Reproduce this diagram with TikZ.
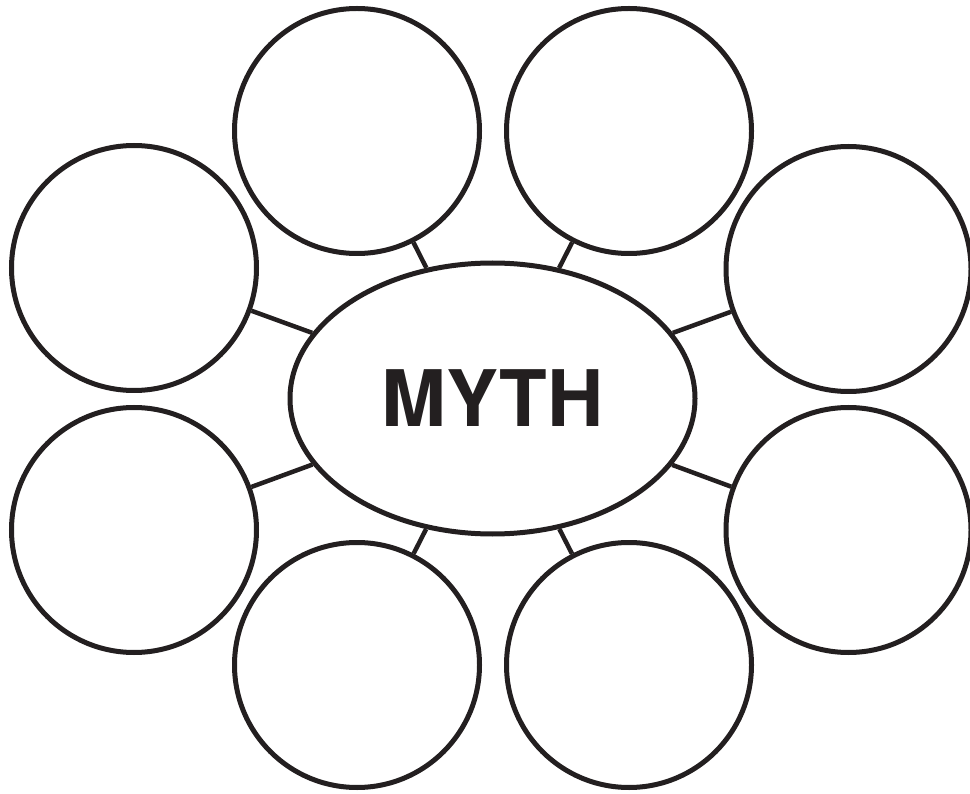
\documentclass[tikz,border=0pt]{standalone}
\usepackage{fontspec}
\setmainfont{TeX Gyre Heros}
\usetikzlibrary{shapes.geometric}
\definecolor{ink}{HTML}{231F20}
\tikzset{
  bubble/.style={circle, draw=ink, line width=5pt, minimum size=245pt, inner sep=0pt},
  hub/.style={ellipse, draw=ink, line width=5pt, minimum width=405pt, minimum height=271pt, inner sep=0pt,
    font=\fontsize{78}{80}\selectfont\bfseries, text=ink},
  link/.style={draw=ink, line width=4.5pt}
}
\begin{document}
\begin{tikzpicture}[x=1pt,y=-1pt]
\useasboundingbox (0,0) rectangle (970,794);
\node[hub] (m) at (492.5,398.5) {MYTH};
\node[bubble] (tl) at (357,131) {};
\node[bubble] (tr) at (629,131) {};
\node[bubble] (lu) at (134,268) {};
\node[bubble] (ru) at (848.5,269) {};
\node[bubble] (ll) at (134,530) {};
\node[bubble] (rl) at (848.5,530) {};
\node[bubble] (bl) at (357,665) {};
\node[bubble] (br) at (629,665) {};
\foreach \n in {tl,tr,lu,ru,ll,rl,bl,br}
  \path[link] (m) -- (\n);
\end{tikzpicture}
\end{document}
